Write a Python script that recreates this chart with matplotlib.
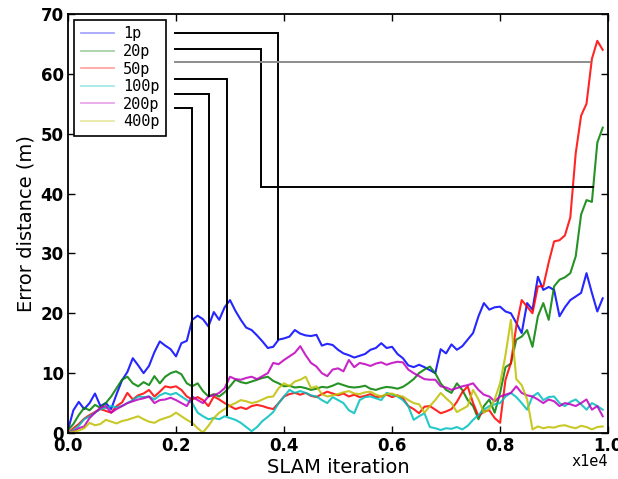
import numpy as np
import matplotlib
matplotlib.use("Agg")
import matplotlib.pyplot as plt

# SLAM iteration (in units of 1e4), one sample every 0.01
iters = np.arange(100) / 100.0

err_1p = [0.5, 3.8, 5.2, 4.0, 5.0, 6.6, 4.5, 5.0, 4.0, 6.5,
          8.8, 10.2, 12.5, 11.3, 10.0, 11.2, 13.5, 15.3, 14.6, 14.0,
          12.8, 15.0, 15.4, 18.9, 19.6, 19.0, 17.8, 20.2, 18.9, 21.0,
          22.2, 20.4, 18.9, 17.6, 17.2, 16.3, 15.3, 14.2, 14.4, 15.6,
          15.8, 16.1, 17.2, 16.6, 16.3, 16.2, 16.4, 14.6, 14.9, 14.7,
          13.9, 13.3, 13.0, 12.6, 12.9, 13.2, 13.9, 14.2, 15.0, 14.2,
          14.4, 13.2, 12.5, 11.3, 11.0, 11.4, 11.0, 10.5, 10.0, 14.0,
          13.3, 14.8, 13.9, 14.5, 15.6, 16.7, 19.5, 21.7, 20.6, 21.0,
          21.1, 20.3, 20.0, 18.4, 16.7, 21.7, 20.6, 26.1, 23.9, 24.4,
          23.9, 19.5, 21.0, 22.2, 22.8, 23.4, 26.7, 23.4, 20.3, 22.5]

err_20p = [0.5, 1.5, 3.0, 4.2, 3.8, 4.7, 4.2, 5.0, 6.1, 7.5,
           8.9, 9.4, 8.3, 7.8, 8.5, 8.0, 9.5, 8.3, 9.4, 10.0,
           10.3, 9.8, 8.3, 7.8, 8.3, 7.0, 6.1, 6.5, 6.1, 6.8,
           7.8, 8.9, 8.5, 8.3, 8.6, 8.9, 9.2, 9.4, 8.7, 8.3,
           7.8, 7.9, 7.6, 7.7, 7.5, 7.2, 7.4, 7.7, 7.6, 7.9,
           8.3, 8.0, 7.7, 7.6, 7.7, 7.9, 7.4, 7.2, 7.5, 7.7,
           7.6, 7.4, 7.7, 8.3, 9.0, 10.0, 10.6, 11.1, 10.0, 8.3,
           7.2, 6.7, 8.3, 7.2, 5.5, 4.5, 2.3, 4.5, 5.6, 3.4,
           6.7, 11.0, 11.6, 15.6, 16.1, 17.2, 14.4, 19.5, 21.7, 18.9,
           24.5, 25.6, 26.0, 26.7, 29.5, 36.5, 38.9, 38.6, 48.5, 51.0]

err_50p = [0.0, 0.8, 1.5, 2.4, 3.0, 3.5, 4.0, 3.7, 3.4, 4.5,
           5.1, 6.7, 5.6, 6.3, 6.6, 7.2, 6.1, 6.9, 7.8, 7.6,
           7.8, 7.2, 6.1, 5.6, 6.0, 5.5, 4.5, 6.1, 5.6, 5.0,
           4.5, 4.0, 4.3, 4.0, 4.5, 4.7, 4.5, 4.2, 4.0, 5.0,
           6.1, 6.5, 6.7, 6.4, 6.7, 6.2, 6.0, 6.5, 6.9, 6.6,
           6.3, 6.6, 6.1, 6.4, 6.0, 6.2, 6.5, 6.0, 6.1, 6.4,
           6.0, 6.3, 5.8, 4.5, 4.0, 3.3, 4.4, 4.5, 3.9, 3.3,
           3.6, 4.0, 5.2, 6.8, 7.8, 5.0, 2.8, 3.6, 3.8, 2.5,
           1.7, 8.9, 11.7, 17.8, 22.2, 21.1, 20.0, 24.5, 24.5, 28.5,
           32.0, 32.2, 33.0, 36.0, 46.7, 53.0, 55.0, 62.5, 65.5, 64.0]

err_100p = [0.0, 0.5, 1.2, 2.3, 2.8, 3.4, 4.0, 4.2, 4.5, 4.3,
            4.5, 5.0, 5.5, 6.1, 6.0, 6.1, 5.6, 6.3, 6.7, 6.4,
            6.7, 6.1, 5.5, 5.0, 3.4, 2.8, 2.3, 2.5, 2.3, 2.8,
            2.5, 2.2, 1.7, 1.0, 0.3, 1.0, 2.0, 2.7, 3.5, 5.0,
            6.1, 7.2, 6.7, 7.0, 6.7, 6.3, 6.1, 5.5, 5.0, 6.0,
            5.5, 5.0, 3.8, 3.3, 5.5, 6.0, 6.1, 5.8, 5.5, 6.7,
            6.4, 6.1, 5.5, 4.5, 2.2, 2.8, 3.3, 1.0, 0.8, 0.5,
            0.8, 0.7, 1.0, 0.6, 1.2, 2.2, 3.0, 3.9, 4.5, 4.8,
            5.0, 6.1, 6.7, 6.0, 5.0, 3.9, 6.1, 6.7, 5.5, 6.0,
            6.1, 5.0, 4.5, 5.2, 5.6, 4.8, 3.9, 5.0, 4.5, 3.9]

err_200p = [0.0, 0.3, 0.8, 1.1, 2.5, 3.4, 4.2, 4.5, 3.4, 4.0,
            4.5, 5.0, 5.3, 5.6, 5.8, 6.1, 5.0, 5.5, 5.6, 5.9,
            5.5, 5.0, 4.5, 6.1, 5.5, 5.0, 6.1, 6.3, 6.7, 7.5,
            9.4, 9.0, 8.9, 9.2, 9.4, 9.0, 9.5, 10.0, 11.7, 11.5,
            12.2, 12.8, 13.4, 14.5, 13.0, 11.7, 11.1, 10.0, 9.5, 10.6,
            10.8, 10.3, 12.2, 11.0, 11.7, 11.5, 11.2, 11.6, 11.8, 11.4,
            11.7, 11.9, 11.8, 10.6, 10.0, 9.5, 9.0, 8.9, 8.9, 7.8,
            7.6, 7.2, 7.5, 7.8, 8.0, 8.3, 7.2, 6.4, 6.1, 5.3,
            6.1, 6.4, 6.7, 7.8, 6.7, 6.3, 6.1, 5.6, 5.0, 5.6,
            5.3, 4.5, 5.0, 4.8, 4.5, 5.0, 5.6, 3.9, 4.5, 2.8]

err_400p = [0.0, 0.2, 0.4, 0.8, 1.7, 1.3, 1.5, 2.2, 1.9, 1.6,
            2.0, 2.2, 2.5, 2.8, 2.3, 1.9, 1.7, 2.2, 2.5, 2.8,
            3.4, 2.8, 2.2, 1.7, 0.8, 0.1, 1.2, 2.5, 3.4, 4.0,
            4.6, 5.0, 5.5, 5.3, 5.0, 5.2, 5.6, 6.0, 6.1, 7.5,
            8.3, 7.8, 8.6, 8.9, 9.4, 7.5, 7.8, 6.5, 6.1, 6.3,
            6.5, 6.8, 7.0, 6.6, 6.5, 6.8, 6.9, 6.4, 6.1, 6.5,
            6.6, 6.2, 6.1, 5.5, 5.0, 4.8, 3.4, 4.5, 5.5, 6.7,
            5.8, 5.0, 3.5, 4.0, 4.5, 7.2, 5.6, 3.4, 4.0, 5.6,
            8.3, 13.0, 18.9, 9.0, 8.0, 5.6, 0.6, 1.1, 0.8, 1.0,
            0.9, 1.2, 1.3, 1.0, 0.8, 1.2, 1.0, 0.6, 1.0, 1.1]

labels = ["1p", "20p", "50p", "100p", "200p", "400p"]
series = [err_1p, err_20p, err_50p, err_100p, err_200p, err_400p]
colors = ["b", "g", "r", "c", "m", "y"]

# callout lines from legend rows to a point on each curve
row_y = [66.8, 64.2, 61.9, 59.2, 56.6, 54.2]
elbow_x = [0.388, 0.357, 0.967, 0.294, 0.261, 0.229]
target_x = [0.388, 0.972, 0.967, 0.294, 0.261, 0.229]
target_y = [15.7, 41.1, 61.9, 3.0, 6.1, 1.3]

plt.rcParams["font.family"] = "DejaVu Sans"
fig = plt.figure(figsize=(6.18, 4.79), dpi=100)
ax = fig.add_axes([0.110, 0.096, 0.874, 0.875])

for ys, lab, c in zip(series, labels, colors):
    ax.plot(iters, ys, color=c, lw=1.5, alpha=0.85, label=lab)

start_x = 0.198
for i in range(len(labels)):
    c = "0.55" if labels[i] == "50p" else "k"
    ax.plot([start_x, elbow_x[i], elbow_x[i], target_x[i]],
            [row_y[i], row_y[i], target_y[i], target_y[i]],
            color=c, lw=1.4, solid_joinstyle="miter")

ax.set_xlim(0, 1.0)
ax.set_ylim(0, 70)
ax.set_xticks([0.0, 0.2, 0.4, 0.6, 0.8, 1.0])
ax.set_xticklabels(["0.0", "0.2", "0.4", "0.6", "0.8", "1.0"])
ax.set_yticks(range(0, 71, 10))
ax.tick_params(direction="in", top=True, right=True, length=5, width=1,
               labelsize=12, pad=3)
for t in ax.get_xticklabels() + ax.get_yticklabels():
    t.set_fontweight("bold")
for s in ax.spines.values():
    s.set_linewidth(1.3)

ax.set_xlabel("SLAM iteration", fontsize=14, labelpad=2)
ax.set_ylabel("Error distance (m)", fontsize=14, labelpad=4)
ax.text(1.0, -0.05, "x1e4", transform=ax.transAxes, ha="right", va="top",
        fontsize=11, family="DejaVu Sans Mono")

leg = ax.legend(loc="upper left", bbox_to_anchor=(0.0, 1.0), fancybox=False,
                edgecolor="k", framealpha=1, borderaxespad=0.42,
                handlelength=2.2, handletextpad=0.6, labelspacing=0.17,
                prop={"family": "DejaVu Sans Mono", "size": 11})
leg.get_frame().set_linewidth(1.2)
for h in leg.get_lines():
    h.set_alpha(0.35)
    h.set_linewidth(1.3)

fig.savefig("out.png", dpi=100)
